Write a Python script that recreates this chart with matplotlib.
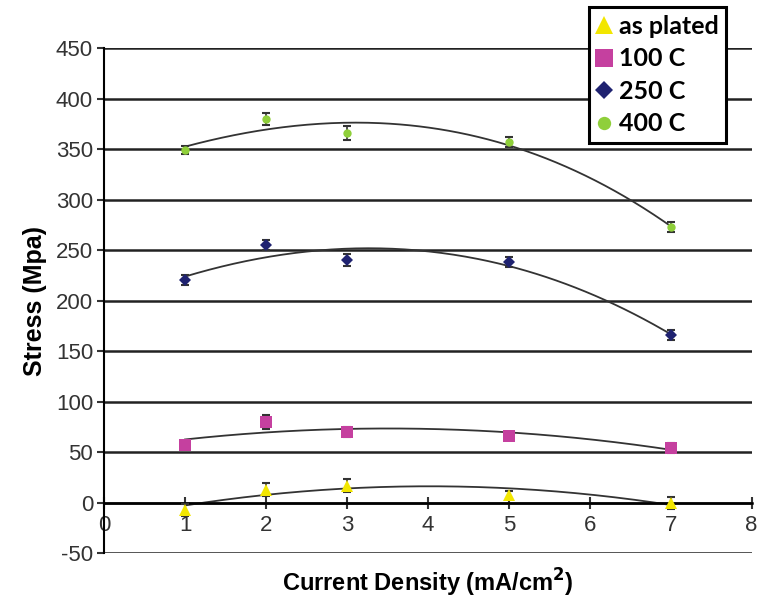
import matplotlib.pyplot as plt
import numpy as np

plt.rcParams["font.family"] = ["Liberation Sans", "DejaVu Sans"]
plt.rcParams["axes.unicode_minus"] = False

# current density values (mA/cm2)
x = np.array([1, 2, 3, 5, 7])

as_plated = np.array([-7, 13, 17, 8, 0])
c100 = np.array([57, 80, 70, 66, 54])
c250 = np.array([220, 255, 240, 238, 166])
c400 = np.array([349, 380, 366, 357, 273])

err_as = np.array([6, 6, 6, 4, 6])
err_100 = np.array([4, 7, 5, 4, 5])
err_250 = np.array([5, 5, 6, 5, 5])
err_400 = np.array([4, 6, 7, 5, 5])

labels = ["as plated", "100 C", "250 C", "400 C"]
colors = ["#f2e600", "#c5409f", "#1f2270", "#8fcf3a"]
markers = ["^", "s", "D", "o"]
msizes = [8, 8, 6, 6]
trend_deg = [2, 2, 3, 3]

fig = plt.figure(figsize=(7.6, 6), dpi=100)
ax = fig.add_axes([0.137, 0.078, 0.852, 0.842])

series = [as_plated, c100, c250, c400]
errs = [err_as, err_100, err_250, err_400]

# grid lines
for g in range(-50, 451, 50):
    ax.axhline(g, color="#222222", lw=1.8, zorder=1)

xx = np.linspace(1, 7, 200)
handles = []
for y, e, c, m, ms, d, lab in zip(series, errs, colors, markers, msizes, trend_deg, labels):
    # polynomial trendline (like the spreadsheet trendline)
    p = np.polyfit(x, y, d)
    ax.plot(xx, np.polyval(p, xx), color="#333333", lw=1.3, zorder=2)
    ax.errorbar(x, y, yerr=e, fmt="none", ecolor="#333333", elinewidth=1.2,
                capsize=3, capthick=1.5, zorder=3)
    h, = ax.plot(x, y, linestyle="none", marker=m, color=c, markersize=ms,
                 markeredgewidth=0, zorder=4, label=lab)
    handles.append(h)

ax.set_xlim(0, 8)
ax.set_ylim(-50, 450)
ax.set_xticks(range(0, 9))
ax.set_yticks(range(-50, 451, 50))

ax.spines["top"].set_visible(False)
ax.spines["right"].set_visible(False)
ax.spines["bottom"].set_position(("data", 0))
ax.spines["bottom"].set_linewidth(1.8)
ax.spines["left"].set_linewidth(1.5)
ax.tick_params(axis="x", direction="inout", length=8, width=1.5, labelsize=16,
               colors="#333333", pad=5)
ax.tick_params(axis="y", direction="out", length=5, width=1.5, labelsize=16,
               colors="#333333", pad=3)
for t in ax.get_xticklabels() + ax.get_yticklabels():
    t.set_color("#333333")

ax.set_ylabel("Stress (Mpa)", fontsize=18, fontweight="bold", labelpad=6)
ax.set_xlabel("Current Density (mA/cm$^\\mathbf{2}$)", fontsize=17,
              fontweight="bold", labelpad=22)

leg = ax.legend(handles=handles, loc="upper right", bbox_to_anchor=(0.98, 1.105),
                frameon=True, fancybox=False, handlelength=0.6, handletextpad=0.3,
                borderpad=0.3, labelspacing=0.38, markerscale=1.6,
                prop={"family": "Lato", "weight": "bold", "size": 18})
leg.get_frame().set_edgecolor("black")
leg.get_frame().set_linewidth(2.2)
leg.get_frame().set_alpha(1)
leg.set_zorder(10)

plt.savefig("out.png", dpi=100)
